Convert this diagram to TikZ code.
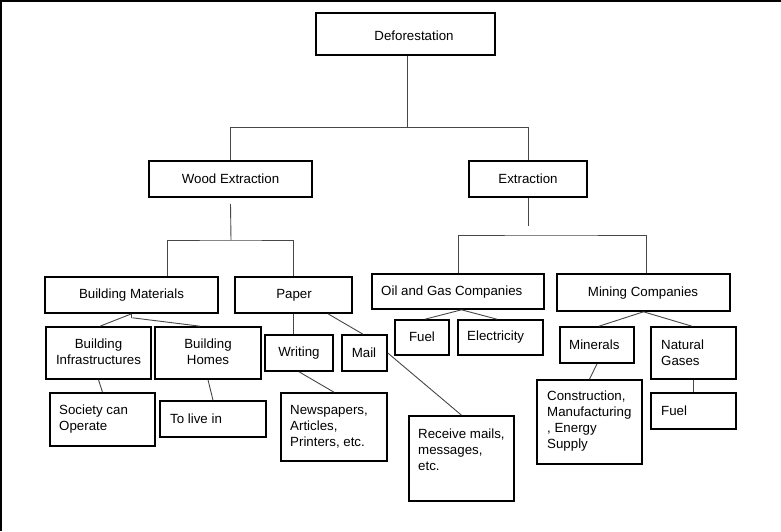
\documentclass[tikz,border=0pt]{standalone}
\usepackage{fontspec}
\setmainfont{Liberation Sans}
\usetikzlibrary{fit}
\begin{document}
\begin{tikzpicture}[x=1pt,y=-1pt,
  boxst/.style={draw=black,line width=1.6pt,inner sep=0pt},
  txt/.style={inner sep=0pt,font=\fontsize{13.3}{16}\selectfont},
  conn/.style={draw=black!72,line width=0.9pt},
  frame/.style={draw=black,line width=1.8pt}]
\useasboundingbox (0,0) rectangle (781,531);
% page frame (top and left edges)
\draw[frame] (781,1) -- (1,1) -- (1,531);

% boxes
\node[boxst,fit={(316,13) (495,55)}] (def) {};
\node[boxst,fit={(149,161) (312,197)}] (wood) {};
\node[boxst,fit={(469,161) (587,197)}] (ext) {};
\node[boxst,fit={(45,277) (218,313)}] (bm) {};
\node[boxst,fit={(235,277) (352,313)}] (paper) {};
\node[boxst,fit={(372,274) (544,309)}] (oil) {};
\node[boxst,fit={(557,274) (730,311)}] (mining) {};
\node[boxst,fit={(46,327) (151,379)}] (binfra) {};
\node[boxst,fit={(155,327) (261,379)}] (bhomes) {};
\node[boxst,fit={(265,335) (333,371)}] (writing) {};
\node[boxst,fit={(342,335) (387,371)}] (mail) {};
\node[boxst,fit={(50,393) (155,446)}] (society) {};
\node[boxst,fit={(160,401) (266,437)}] (tolive) {};
\node[boxst,fit={(281,393) (387,461)}] (news) {};
\node[boxst,fit={(409,416) (514,501)}] (receive) {};
\node[boxst,fit={(395,320) (449,355)}] (fuela) {};
\node[boxst,fit={(458,320) (543,355)}] (elec) {};
\node[boxst,fit={(560,327) (634,363)}] (minerals) {};
\node[boxst,fit={(651,327) (736,379)}] (natgas) {};
\node[boxst,fit={(537,380) (642,464)}] (constr) {};
\node[boxst,fit={(651,393) (736,429)}] (fuelb) {};

% labels
\node[txt] (def-t) at (414,36) {Deforestation};
\node[txt] (wood-t) at (230.5,179) {Wood Extraction};
\node[txt] (ext-t) at (528,179) {Extraction};
\node[txt] (bm-t) at (131.5,295) {Building Materials};
\node[txt] (paper-t) at (294,295) {Paper};
\node[txt,anchor=west] (oil-t) at (381,292) {Oil and Gas Companies};
\node[txt] (mining-t) at (643,293) {Mining Companies};
\node[txt] (fuela-t) at (422,337) {Fuel};
\node[txt,anchor=west] (elec-t) at (467,337) {Electricity};
\node[txt,anchor=west] (minerals-t) at (569,345) {Minerals};
\node[txt,anchor=west,align=left] (natgas-t) at (661,353) {Natural\\Gases};
\node[txt,align=center] (binfra-t) at (98.5,352) {Building\\Infrastructures};
\node[txt,align=center] (bhomes-t) at (208,352) {Building\\Homes};
\node[txt] (writing-t) at (299,353) {Writing};
\node[txt] (mail-t) at (364,353) {Mail};
\node[txt,anchor=west,align=left] (society-t) at (59,419) {Society can\\Operate};
\node[txt,anchor=west] (tolive-t) at (170,419) {To live in};
\node[txt,anchor=west,align=left] (news-t) at (290,427) {Newspapers,\\Articles,\\Printers, etc.};
\node[txt,anchor=west,align=left] (receive-t) at (418,450) {Receive mails,\\messages,\\etc.};
\node[txt,anchor=west,align=left] (constr-t) at (547,421.5) {Construction,\\Manufacturing\\, Energy\\Supply};
\node[txt,anchor=west] (fuelb-t) at (661,411) {Fuel};

% junction points
\coordinate (j1) at (407,127);
\coordinate (j2) at (231,240);
\coordinate (j3) at (528,226);
\coordinate (j4) at (550,235);

% top level
\draw[conn] ([xshift=1.5pt]def.south) -- (j1);
\draw[conn] (wood.north) -- (wood.north |- j1) -- (ext.north |- j1) -- (ext.north);

% wood extraction branch
\draw[conn] ([yshift=-6pt]wood.south) -- (j2);
\draw[conn] ([xshift=36pt]bm.north) |- (j2) -| (paper.north);

% extraction branch
\draw[conn] (ext.south) -- (j3);
\draw[conn] (oil.north) |- (j4) -| ([xshift=2.5pt]mining.north);

% building materials
\draw[conn] (bm.south) -- ([yshift=-4pt]bm.south);
\draw[conn] (bm.south) -- ([xshift=1.5pt]binfra.north);
\draw[conn] ([xshift=1pt,yshift=-4pt]bm.south) -- ([xshift=-8pt]bhomes.north);
\draw[conn] (binfra.south) -- (society.north);
\draw[conn] (bhomes.south) -- (tolive.north);

% paper
\draw[conn] (paper.south) -- (paper.south |- writing.north);
\draw[conn] ([xshift=34.5pt]paper.south) -- ([xshift=-1.5pt]mail.north);
\draw[conn] (writing.south) -- (news.north);
\draw[conn] (mail.east) -- (receive.north);

% oil and gas
\draw[conn] ([xshift=3.5pt]oil.south) -- ([xshift=3pt]fuela.north);
\draw[conn] ([xshift=3.5pt]oil.south) -- ([xshift=-3.5pt]elec.north);

% mining
\draw[conn] (mining.south) -- ([xshift=2pt]minerals.north);
\draw[conn] (mining.south) -- ([xshift=-1.5pt]natgas.north);
\draw[conn] (minerals.south) -- (constr.north);
\draw[conn] (natgas.south) -- (fuelb.north);
\end{tikzpicture}
\end{document}
